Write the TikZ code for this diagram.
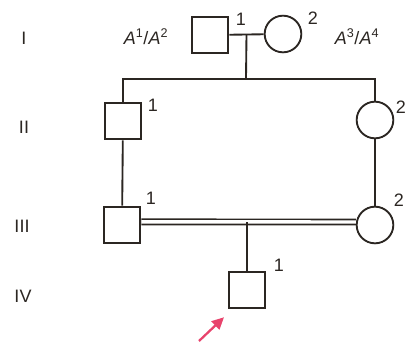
\documentclass[tikz,border=0pt]{standalone}
\usepackage{fontspec}
\setmainfont{Liberation Sans}
\usetikzlibrary{arrows.meta,calc}
\definecolor{pedline}{HTML}{2B2622}
\definecolor{probandpink}{HTML}{E8436C}
\tikzset{
    male/.style={draw=pedline, rectangle, minimum size=27.5pt, inner sep=0pt},
    female/.style={draw=pedline, circle, minimum size=27.5pt, inner sep=0pt},
    lbl/.style={font=\fontsize{13.5}{15}\selectfont, text=pedline, inner sep=0pt}
}
\begin{document}
\begin{tikzpicture}[x=0.75pt, y=-0.75pt, line width=1.4pt]
        \useasboundingbox (0,0) rectangle (405,344);
        % generations
        \node[lbl] (genI) at (24, 38) {I};
        \node[lbl] (genII) at (24, 127) {II};
        \node[lbl] (genIII) at (22, 226) {III};
        \node[lbl] (genIV) at (23, 296) {IV};
        % individuals
        \node[male] (I1) at (210, 35) {};
        \node[female] (I2) at (283, 34) {};
        \node[male] (II1) at (123, 121) {};
        \node[female] (II2) at (375, 120) {};
        \node[male] (III1) at (122, 225) {};
        \node[female] (III2) at (375, 225) {};
        \node[male] (IV1) at (247, 290) {};
        % numbers and genotypes
        \node[lbl] (nI1) at (241, 19) {1};
        \node[lbl] (nI2) at (313, 18) {2};
        \node[lbl] (nII1) at (153, 105) {1};
        \node[lbl] (nII2) at (401, 107) {2};
        \node[lbl] (nIII1) at (151, 198) {1};
        \node[lbl] (nIII2) at (399, 200) {2};
        \node[lbl] (nIV1) at (279, 265) {1};
        \node[lbl] (gI1) at (146, 37) {\textit{A}\textsuperscript{1}/\textit{A}\textsuperscript{2}};
        \node[lbl] (gI2) at (357, 37) {\textit{A}\textsuperscript{3}/\textit{A}\textsuperscript{4}};
        % lines of descent
        \draw[pedline] (I1) -- (I2);
        \coordinate (m1) at ($(I1.east)!0.5!(I2.west)$);
        \coordinate (sib) at (246, 79);
        \draw[pedline] (m1) -- (sib);
        \draw[pedline] (II1.north) |- (sib) -| (II2.north);
        \draw[pedline] (II1) -- (III1);
        \draw[pedline] (II2) -- (III2);
        \draw[pedline, double, double distance=2.6pt, line width=1.3pt] (III1.9) -- (III2.171);
        \draw[pedline] (IV1.north) -- (IV1.north |- III1.9);
        % proband
        \coordinate (tail) at (199, 341);
        \draw[probandpink, line width=1.7pt, -{Triangle[length=9pt, width=8.5pt]}] (tail) -- ([shift={(-23,8)}]IV1.south);
    \end{tikzpicture}
\end{document}
